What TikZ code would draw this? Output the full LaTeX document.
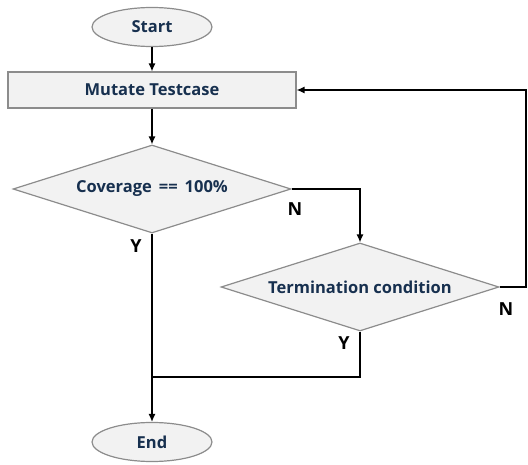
\documentclass[tikz,border=0pt]{standalone}
\usepackage{fontspec}
\setmainfont{Open Sans}
\usetikzlibrary{shapes.geometric,arrows.meta}
\definecolor{boxfill}{HTML}{F2F2F2}
\definecolor{boxline}{HTML}{8C8C8C}
\definecolor{boxtext}{HTML}{17304F}
\begin{document}
\begin{tikzpicture}[x=1pt,y=-1pt,
  terminal/.style={shape=ellipse, draw=boxline, fill=boxfill, line width=1.2pt, minimum width=120pt, minimum height=39pt, inner sep=0pt, font=\bfseries\fontsize{16.5}{19}\selectfont, text=boxtext},
  process/.style={shape=rectangle, draw=boxline, fill=boxfill, line width=1.2pt, minimum width=288pt, minimum height=36pt, inner sep=0pt, font=\bfseries\fontsize{16.5}{19}\selectfont, text=boxtext},
  decision/.style={shape=diamond, draw=boxline, fill=boxfill, line width=1.2pt, aspect=3.16, minimum width=278pt, minimum height=88pt, inner sep=0pt, font=\bfseries\fontsize{16.5}{19}\selectfont, text=boxtext},
  answer/.style={font=\bfseries\fontsize{18}{20}\selectfont, inner sep=0pt},
  arr/.style={-{Latex[length=8pt,width=7pt]}, line width=1.3pt},
  conn/.style={line width=1.3pt}]
\useasboundingbox (0,0) rectangle (528,465);
\node[terminal] (start) at (152,27) {Start};
\node[process] (mutate) at (152,90) {Mutate Testcase};
\node[decision] (cov) at (152,189) {Coverage\hspace{7pt}==\hspace{7pt}100\%};
\node[decision] (term) at (360,287) {Termination condition};
\node[terminal] (end) at (152,442) {End};
\coordinate (loopR) at (526,90);
\coordinate (join) at (152,377);
% answers
\node[answer] (covN) at (295,209) {N};
\node[answer] (covY) at (136,246) {Y};
\node[answer] (termN) at (506,309) {N};
\node[answer] (termY) at (344,343) {Y};
% connectors
\draw[arr] (start) -- (mutate);
\draw[arr] (mutate) -- (cov);
\draw[arr] (cov.east) -| (term.north);
\draw[arr] (term.east) -| (loopR) -- (mutate.east);
\draw[conn] (term.south) |- (join);
\draw[arr] (cov.south) -- (end);
\end{tikzpicture}
\end{document}
